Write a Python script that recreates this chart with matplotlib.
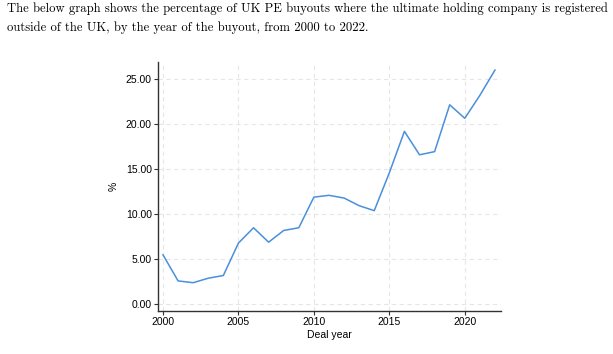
import matplotlib
matplotlib.use("Agg")
import matplotlib.pyplot as plt
from matplotlib import font_manager

years = list(range(2000, 2023))
pct = [5.5, 2.6, 2.4, 2.9, 3.2, 6.8, 8.5, 6.9, 8.2, 8.5, 11.9, 12.1, 11.8,
       10.95, 10.4, 14.6, 19.2, 16.6, 16.95, 22.15, 20.65, 23.2, 26.0]
yticks = [0, 5, 10, 15, 20, 25]
xticks = [2000, 2005, 2010, 2015, 2020]
title_lines = ["The below graph shows the percentage of UK PE buyouts where the ultimate holding company is registered",
               "outside of the UK, by the year of the buyout, from 2000 to 2022."]

names = {f.name for f in font_manager.fontManager.ttflist}
sans = "Liberation Sans Narrow" if "Liberation Sans Narrow" in names else "Liberation Sans"

W, H = 613, 354
fig = plt.figure(figsize=(W/100, H/100), dpi=100)
fig.patch.set_facecolor("white")

l, r, t, b = 158, 501, 62, 311
ax = fig.add_axes([l/W, 1-b/H, (r-l)/W, (b-t)/H])
ax.plot(years, pct, color="#4a8fdc", lw=1.1)
ax.set_xlim(1999.67, 2022.4)
ax.set_ylim(-0.74, 26.9)
ax.set_yticks(yticks)
ax.set_yticklabels([f"{v:.2f}" for v in yticks], fontfamily=sans, fontsize=7.5)
ax.set_xticks(xticks)
ax.set_xticklabels([str(v) for v in xticks], fontfamily=sans, fontsize=7.5)
ax.grid(True, color="#e6e6e6", ls=(0, (4, 3)), lw=0.8)
for s in ["top", "right"]:
    ax.spines[s].set_visible(False)
for s in ["left", "bottom"]:
    ax.spines[s].set_color("#333333")
    ax.spines[s].set_linewidth(1.0)
ax.tick_params(length=3, width=0.8, color="#333333", pad=1.5)
ax.set_xlabel("Deal year", fontfamily=sans, fontsize=7.5, labelpad=2)
ax.set_ylabel("%", fontfamily=sans, fontsize=7.5, labelpad=5)

fig.text(7/W, 1-9/H, title_lines[0], family="cmr10", fontsize=9.1, va="center", ha="left")
fig.text(7/W, 1-28/H, title_lines[1], family="cmr10", fontsize=9.1, va="center", ha="left")

fig.savefig("out.png", dpi=100)
